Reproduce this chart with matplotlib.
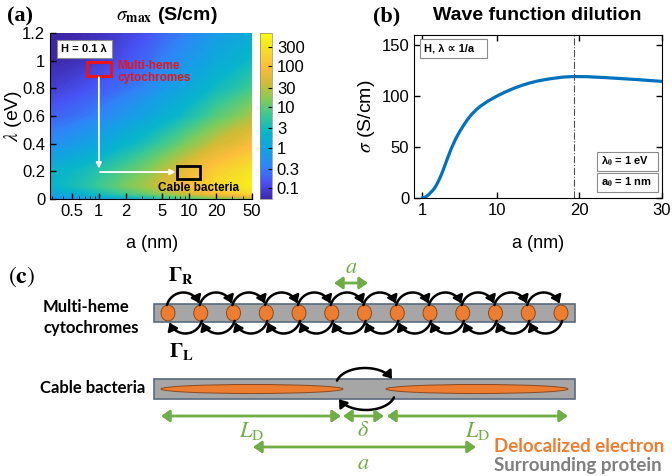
import numpy as np
import matplotlib
matplotlib.use("Agg")
import matplotlib.pyplot as plt
from matplotlib.colors import LinearSegmentedColormap, LogNorm
from matplotlib.patches import Rectangle, Ellipse, FancyArrowPatch
from matplotlib.path import Path
import matplotlib.cm as cm

plt.rcParams['font.family'] = ['Liberation Sans', 'DejaVu Sans']
plt.rcParams['mathtext.fontset'] = 'stix'

# ---- data : panel (a) sigma_max map, log10(S/cm)
a_grid = [0.28, 0.5, 1, 2, 5, 10, 20, 50]
lam_grid = [0.0, 0.04, 0.1, 0.2, 0.4, 0.6, 0.8, 1.0, 1.2]
logsig = [
    [-0.40, -0.25, 0.00, 0.20, 0.50, 0.75, 1.00, 1.30],    # lam = 0
    [0.05, 0.25, 0.50, 0.85, 1.30, 1.65, 2.00, 2.35],      # 0.04
    [0.35, 0.50, 0.80, 1.15, 1.65, 2.00, 2.35, 2.65],      # 0.1
    [0.25, 0.40, 0.65, 0.95, 1.45, 1.85, 2.20, 2.50],      # 0.2
    [-0.35, -0.20, 0.05, 0.35, 0.80, 1.20, 1.60, 1.95],    # 0.4
    [-0.75, -0.65, -0.45, -0.20, 0.20, 0.55, 0.95, 1.40],  # 0.6
    [-1.05, -0.95, -0.80, -0.60, -0.20, 0.10, 0.45, 0.85], # 0.8
    [-1.25, -1.20, -1.05, -0.85, -0.50, -0.20, 0.10, 0.45],# 1.0
    [-1.30, -1.25, -1.15, -1.00, -0.70, -0.45, -0.15, 0.15],# 1.2
]
cbar_ticks = [0.1, 0.3, 1, 3, 10, 30, 100, 300]
cbar_labels = ['0.1', '0.3', '1', '3', '10', '30', '100', '300']
xa_ticks = [0.5, 1, 2, 5, 10, 20, 50]
xa_labels = ['0.5', '1', '2', '5', '10', '20', '50']
ya_ticks = [0, 0.2, 0.4, 0.6, 0.8, 1.0, 1.2]
ya_labels = ['0', '0.2', '0.4', '0.6', '0.8', '1', '1.2']
heme_box = (0.74, 1.36, 0.89, 0.99)     # a0, a1, lam0, lam1
cable_box = (7.3, 13.2, 0.145, 0.24)

# ---- data : panel (b) sigma vs a
a_b = [1, 1.25, 1.5, 1.75, 2, 2.25, 2.5, 2.75, 3, 3.25, 3.5, 3.75, 4, 4.5, 5, 5.5, 6, 6.5,
       7, 7.5, 8, 9, 10, 11, 12, 13, 14, 15, 16, 17, 18, 19.3, 21, 23, 25, 27, 30]
sig_b = [0, 0.3, 1.2, 2.8, 5, 7, 9.5, 13, 17, 21.5, 26.5, 32, 37.5, 48, 57, 64.5, 71, 77,
         82, 86, 89.5, 95, 99.5, 103.5, 107, 110, 112.5, 114.5, 116, 117.2, 118.2, 118.8,
         118.6, 117.8, 116.8, 115.8, 114]
a_max = 19.3

# parula-like colormap
parula = LinearSegmentedColormap.from_list('parula', [
    (0.2422, 0.1504, 0.6603), (0.2810, 0.3228, 0.9579), (0.1786, 0.5289, 0.9682),
    (0.0689, 0.6376, 0.8852), (0.0300, 0.7100, 0.7900), (0.2161, 0.7843, 0.5923),
    (0.5044, 0.7993, 0.3480), (0.8208, 0.7332, 0.2062), (0.9892, 0.7408, 0.2334),
    (0.9640, 0.8742, 0.1550), (0.9763, 0.9831, 0.0538)])
vmin, vmax = 0.054, 660

W, H = 672, 476
fig = plt.figure(figsize=(W / 100, H / 100), dpi=100)


def fbox(x0, x1, y0, y1):
    # pixel box (top-left origin) -> figure fraction
    return [x0 / W, 1 - y1 / H, (x1 - x0) / W, (y1 - y0) / H]


def label_box(fig, x0, x1, y0, y1, txt):
    # white annotation box with grey edge, pixel units
    fig.add_artist(Rectangle((x0 / W, 1 - y1 / H), (x1 - x0) / W, (y1 - y0) / H,
                             transform=fig.transFigure, fc='white', ec='#8c8c8c', lw=0.8))
    fig.text((x0 + 4) / W, 1 - (y0 + y1) / 2 / H, txt, fontsize=8, fontweight='bold',
             ha='left', va='center')


# ================= panel (a)
ax = fig.add_axes(fbox(50, 252, 33, 199))
A, LAM = np.meshgrid(a_grid, lam_grid)
ax.set_xscale('log')
ax.contourf(A, LAM, np.array(logsig), levels=np.linspace(np.log10(vmin), np.log10(vmax), 150),
            cmap=parula, extend='both')
ax.set_xlim(0.287, 50)
ax.set_ylim(0, 1.2)
ax.set_xticks(xa_ticks)
ax.set_xticklabels(xa_labels)
ax.set_yticks(ya_ticks)
ax.set_yticklabels(ya_labels)
ax.tick_params(direction='in', labelsize=12, length=4, width=1)
ax.tick_params(which='minor', direction='in', length=2)
ax.spines['top'].set_visible(False)
ax.spines['right'].set_visible(False)

x0, x1, y0, y1 = heme_box
ax.add_patch(Rectangle((x0, y0), x1 - x0, y1 - y0, fill=False, ec='#e8141c', lw=2.2))
x0, x1, y0, y1 = cable_box
ax.add_patch(Rectangle((x0, y0), x1 - x0, y1 - y0, fill=False, ec='black', lw=2))
ax.annotate('', xy=(1.0, 0.22), xytext=(1.0, 0.88),
            arrowprops=dict(arrowstyle='-|>', color='white', lw=1.3, mutation_scale=8,
                            shrinkA=0, shrinkB=0))
ax.annotate('', xy=(7.1, 0.195), xytext=(1.03, 0.195),
            arrowprops=dict(arrowstyle='-|>', color='white', lw=1.3, mutation_scale=8,
                            shrinkA=0, shrinkB=0))
ax.text(0.332, 0.765, 'Multi-heme\ncytochromes', transform=ax.transAxes, ha='left', va='center',
        fontsize=8.5, fontweight='bold', color='#e8141c', linespacing=1.1)
ax.text(0.733, 0.066, 'Cable bacteria', transform=ax.transAxes, ha='center', va='center',
        fontsize=8.5, fontweight='bold', color='black')
label_box(fig, 57, 112, 40, 58, 'H = 0.1 λ')

cax = fig.add_axes(fbox(260, 272, 33, 199))
sm = cm.ScalarMappable(norm=LogNorm(vmin, vmax), cmap=parula)
cb = fig.colorbar(sm, cax=cax, ticks=cbar_ticks)
cb.set_ticklabels(cbar_labels)
cb.ax.minorticks_off()
cb.ax.tick_params(direction='in', labelsize=12, length=3)
cb.outline.set_linewidth(0.5)
cb.outline.set_edgecolor('#888888')

fig.text(7 / W, 1 - 16 / H, '(a)', family='Liberation Serif', fontweight='bold', fontsize=16,
         ha='left', va='center')
fig.text(167 / W, 1 - 16 / H, r'$\sigma_{\mathbf{max}}$ (S/cm)', fontweight='bold', fontsize=14,
         ha='center', va='center')
fig.text(152 / W, 1 - 244 / H, 'a (nm)', fontsize=13, ha='center', va='center')
fig.text(13 / W, 1 - 116 / H, r'$\lambda$ (eV)', fontsize=14, ha='center', va='center', rotation=90)

# ================= panel (b)
bx = fig.add_axes(fbox(414, 662, 34.5, 197.7))
bx.plot(a_b, sig_b, color='#0072bd', lw=2.3, solid_capstyle='round', solid_joinstyle='round')
bx.axvline(a_max, color='#505050', lw=0.8, ls='-.')
bx.set_xlim(0, 30)
bx.set_ylim(0, 160)
bx.set_xticks([1, 10, 20, 30])
bx.set_yticks([0, 50, 100, 150])
bx.tick_params(direction='in', labelsize=12, length=4, width=1, top=True, right=True)
label_box(fig, 420, 487, 39, 58, 'H, λ ∝ 1/a')
label_box(fig, 597, 658, 152, 171, r'λ$_{\mathbf{0}}$ = 1 eV')
label_box(fig, 597, 658, 173, 192, r'a$_{\mathbf{0}}$ = 1 nm')

fig.text(373 / W, 1 - 16 / H, '(b)', family='Liberation Serif', fontweight='bold', fontsize=16,
         ha='left', va='center')
fig.text(537 / W, 1 - 16 / H, 'Wave function dilution', fontweight='bold', fontsize=14,
         ha='center', va='center')
fig.text(538 / W, 1 - 244 / H, 'a (nm)', fontsize=13, ha='center', va='center')
fig.text(367 / W, 1 - 116 / H, r'$\sigma$ (S/cm)', fontsize=14, ha='center', va='center', rotation=90)

# ================= panel (c) schematic, drawn in pixel units
n_heme = 13
bar_x0, bar_x1 = 154, 575
heme_x0, heme_dx = 168, 32.75
green = '#70ad47'
orange = '#ed7d31'
grey_bar = '#a6a6a6'
edge_bar = '#5a6a7e'

cx = fig.add_axes([0, 0, 1, 226 / H])
cx.set_xlim(0, W)
cx.set_ylim(H, 250)
cx.axis('off')

cx.add_patch(Rectangle((bar_x0, 304), bar_x1 - bar_x0, 18, fc=grey_bar, ec=edge_bar, lw=1.2))
hx = [heme_x0 + i * heme_dx for i in range(n_heme)]
for x in hx:
    cx.add_patch(Ellipse((x, 313), 14, 16, fc=orange, ec='#8a4a1f', lw=0.7))


def hop(xc, yc, rx, ry, up=True):
    # elliptic hop arrow; above the bar it runs left->right, below right->left
    th = np.radians(np.linspace(165, 22, 30) if up else np.linspace(15, 158, 30))
    if up:
        pts = np.column_stack([xc + rx * np.cos(th), yc - ry * np.sin(th)])
    else:
        pts = np.column_stack([xc + rx * np.cos(th), yc + ry * np.sin(th)])
    p = Path(pts)
    cx.add_patch(FancyArrowPatch(path=p, arrowstyle='-|>,head_length=0.6,head_width=0.45',
                                 mutation_scale=7, color='black', lw=1.8))


for i in range(n_heme - 1):
    xm = (hx[i] + hx[i + 1]) / 2
    hop(xm - 1, 309.5, 17, 17, up=True)
    hop(xm + 1, 316.5, 17, 17, up=False)

cx.text(181, 276, r'$\mathbf{\Gamma_R}$', fontsize=15, ha='center', va='center')
cx.text(181, 352, r'$\mathbf{\Gamma_L}$', fontsize=15, ha='center', va='center')
cx.annotate('', xy=(368, 283), xytext=(334, 283),
            arrowprops=dict(arrowstyle='<|-|>,head_length=0.5,head_width=0.35', color=green,
                            lw=2, mutation_scale=10, shrinkA=0, shrinkB=0))
cx.text(351, 268, r'$a$', color=green, fontsize=16, ha='center', va='center')

cx.add_patch(Rectangle((bar_x0, 379), bar_x1 - bar_x0, 20, fc=grey_bar, ec=edge_bar, lw=1.2))
cx.add_patch(Ellipse((252, 389), 182, 9, fc=orange, ec='#8a4a1f', lw=0.7))
cx.add_patch(Ellipse((477, 389), 182, 9, fc=orange, ec='#8a4a1f', lw=0.7))
hop(365, 385, 29, 17, up=True)
hop(366, 393, 29, 17, up=False)

for xs, xe, yy in [(161, 341, 416), (343, 384, 416), (387, 568, 416), (253, 476, 447)]:
    cx.annotate('', xy=(xe, yy), xytext=(xs, yy),
                arrowprops=dict(arrowstyle='<|-|>,head_length=0.5,head_width=0.35', color=green,
                                lw=2, mutation_scale=10, shrinkA=0, shrinkB=0))
cx.text(252, 431, r'$L_{\mathrm{D}}$', color=green, fontsize=16, ha='center', va='center')
cx.text(478, 431, r'$L_{\mathrm{D}}$', color=green, fontsize=16, ha='center', va='center')
cx.text(363, 431, r'$\delta$', color=green, fontsize=16, ha='center', va='center')
cx.text(363, 464, r'$a$', color=green, fontsize=16, ha='center', va='center')

cx.text(8, 277, r'$(\mathbf{c})$', fontsize=17, ha='left', va='center')
cx.text(43, 307, 'Multi-heme', family='Lato', fontweight='bold', fontsize=12, ha='left', va='center')
cx.text(43, 328, 'cytochromes', family='Lato', fontweight='bold', fontsize=12, ha='left', va='center')
cx.text(40, 388, 'Cable bacteria', family='Lato', fontweight='bold', fontsize=12, ha='left', va='center')
cx.text(494, 447, 'Delocalized electron', family='Lato', fontweight='bold', fontsize=13.5,
        color=orange, ha='left', va='center')
cx.text(494, 466, 'Surrounding protein', family='Lato', fontweight='bold', fontsize=13.5,
        color='#7f7f7f', ha='left', va='center')

fig.savefig('out.png', dpi=100)
